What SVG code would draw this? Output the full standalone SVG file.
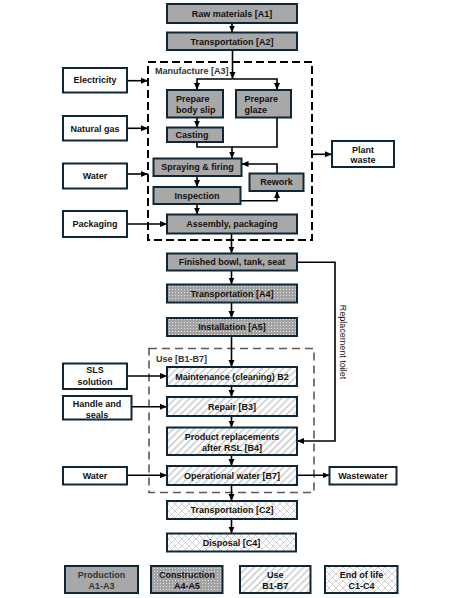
<svg xmlns="http://www.w3.org/2000/svg" width="467" height="598" viewBox="0 0 467 598">
<defs>
<style>
.n{stroke:#0f2636;stroke-width:2}
.g{fill:#a8a8a8}
.w{fill:#fff}
.d{fill:url(#dots)}
.h{fill:url(#hatch)}
.x{fill:url(#cross)}
text{font-family:"Liberation Sans",Arial,sans-serif;font-size:9px;font-weight:bold;fill:#111}
.c{text-anchor:middle}
.lbl{fill:#333}
.cn path,.cn line{fill:none;stroke:#000;stroke-width:1.6}
.a{marker-end:url(#ah)}
</style>
<marker id="ah" markerUnits="userSpaceOnUse" markerWidth="8" markerHeight="8" viewBox="0 0 8 8" refX="7" refY="4" orient="auto"><path d="M0,1 L7,4 L0,7 Z" fill="#000"/></marker>
<pattern id="dots" width="3" height="3" patternUnits="userSpaceOnUse"><rect width="3" height="3" fill="#a3a3a3"/><rect x="1" y="1" width="1" height="1" fill="#e4e4e4"/></pattern>
<pattern id="hatch" width="5" height="5" patternUnits="userSpaceOnUse" patternTransform="rotate(45)"><rect width="5" height="5" fill="#fff"/><line x1="0.5" y1="0" x2="0.5" y2="5" stroke="#c6c6c6" stroke-width="1.8"/></pattern>
<pattern id="cross" width="7" height="7" patternUnits="userSpaceOnUse"><rect width="7" height="7" fill="#fff"/><path d="M0,7 L7,0 M0,0 L7,7" stroke="#bdbdbd" stroke-width="0.7"/></pattern>
</defs>
<rect width="467" height="598" fill="#fff"/>

<g id="boundaries">
<rect x="148" y="62" width="164" height="178" fill="none" stroke="#000" stroke-width="2" stroke-dasharray="8,4"/>
<text class="lbl" x="155" y="74.3">Manufacture [A3]</text>
<rect x="149" y="348.5" width="165" height="144" fill="none" stroke="#595959" stroke-width="1.6" stroke-dasharray="8,5"/>
<text class="lbl" x="156" y="361.5">Use [B1-B7]</text>
</g>

<g id="connectors" class="cn">
<path class="a" d="M232,23 V32.5"/>
<path class="a" d="M232.5,50 V79"/>
<path class="a" d="M232.5,79 H197 V90"/>
<path class="a" d="M232.5,79 H277 V90"/>
<path class="a" d="M197,117.5 V127.5"/>
<path d="M277,117.5 V147 H232"/>
<path class="a" d="M197,142 V147 H232 V158.5"/>
<path class="a" d="M277,173.5 V164 H241.5"/>
<path class="a" d="M240.5,200.7 H277 V191"/>
<path class="a" d="M197,176 V187"/>
<path class="a" d="M197,204 V214.5"/>
<path class="a" d="M127,80.7 H148"/>
<path class="a" d="M127,128.3 H148"/>
<path class="a" d="M127,174 H148"/>
<path class="a" d="M127,224 H167"/>
<path class="a" d="M312,154.3 H332"/>
<path class="a" d="M231.5,233.5 V253.5"/>
<path class="a" d="M231.5,270.5 V284.5"/>
<path class="a" d="M231.5,302.5 V318"/>
<path class="a" d="M231.5,336 V367"/>
<path class="a" d="M231.5,386 V397"/>
<path class="a" d="M231.5,416 V427.5"/>
<path class="a" d="M231.5,455 V466"/>
<path class="a" d="M231.5,485 V501"/>
<path class="a" d="M231.5,519 V533.5"/>
<path class="a" d="M127,376 H167"/>
<path class="a" d="M131.5,406.7 H167"/>
<path class="a" d="M127,475.3 H167"/>
<path class="a" d="M297,475.3 H329.5"/>
<path class="a" d="M297,262.3 H335 V441 H297"/>
<text x="343" y="342" class="c" transform="rotate(90 343 342)" style="font-weight:normal" dy="3">Replacement toilet</text>
</g>

<g id="raw"><rect class="n g" x="167" y="4" width="130" height="19"/><text class="c" x="232" y="16.7">Raw materials [A1]</text></g>
<g id="transA2"><rect class="n g" x="167" y="32.5" width="130" height="17.5"/><text class="c" x="232" y="44.5">Transportation [A2]</text></g>
<g id="body"><rect class="n g" x="167" y="90" width="56" height="27.5"/><text x="176" y="102.2">Prepare</text><text x="176" y="112.7">body slip</text></g>
<g id="glaze"><rect class="n g" x="236" y="90" width="55" height="27.5"/><text x="244.5" y="102.2">Prepare</text><text x="244.5" y="112.7">glaze</text></g>
<g id="casting"><rect class="n g" x="167" y="127.5" width="56" height="14.5"/><text x="175.5" y="137.9">Casting</text></g>
<g id="spray"><rect class="n g" x="153.5" y="158.5" width="88" height="17.5"/><text class="c" x="197.5" y="170.4">Spraying &amp; firing</text></g>
<g id="rework"><rect class="n g" x="249.5" y="173.5" width="54" height="17.5"/><text class="c" x="276.5" y="185.4">Rework</text></g>
<g id="inspection"><rect class="n g" x="153.5" y="187" width="87" height="17"/><text class="c" x="197" y="198.7">Inspection</text></g>
<g id="assembly"><rect class="n g" x="167" y="214.5" width="130" height="19"/><text class="c" x="232" y="227.2">Assembly, packaging</text></g>
<g id="electricity"><rect class="n w" x="63" y="68" width="64" height="24.5"/><text class="c" x="95" y="83.4">Electricity</text></g>
<g id="natgas"><rect class="n w" x="63" y="116" width="64" height="24.5"/><text class="c" x="95" y="131.5">Natural gas</text></g>
<g id="water1"><rect class="n w" x="63" y="163.5" width="64" height="25"/><text class="c" x="95" y="179.2">Water</text></g>
<g id="packaging"><rect class="n w" x="63" y="211" width="64" height="26"/><text class="c" x="95" y="227.2">Packaging</text></g>
<g id="plantwaste"><rect class="n w" x="332" y="141" width="62" height="26"/><text class="c" x="363" y="152.5">Plant</text><text class="c" x="363" y="162.9">waste</text></g>
<g id="finished"><rect class="n g" x="167" y="253.5" width="130" height="17"/><text class="c" x="232" y="265.2">Finished bowl, tank, seat</text></g>
<g id="transA4"><rect class="n d" x="167" y="284.5" width="130" height="18"/><text class="c" x="232" y="296.7">Transportation [A4]</text></g>
<g id="install"><rect class="n d" x="167" y="318" width="130" height="18"/><text class="c" x="232" y="330.2">Installation [A5]</text></g>
<g id="maint"><rect class="n h" x="167" y="367" width="130" height="19"/><text class="c" x="232" y="379.7">Maintenance (cleaning) B2</text></g>
<g id="sls"><rect class="n w" x="63" y="363.5" width="64" height="25.5"/><text class="c" x="95" y="372.7">SLS</text><text class="c" x="95" y="384.9">solution</text></g>
<g id="repair"><rect class="n h" x="167" y="397" width="130" height="19"/><text class="c" x="232" y="409.7">Repair [B3]</text></g>
<g id="handle"><rect class="n w" x="63" y="396" width="68.5" height="23.5"/><text class="c" x="97" y="407.2">Handle and</text><text class="c" x="97" y="418.2">seals</text></g>
<g id="product"><rect class="n h" x="167" y="427.5" width="130" height="27.5"/><text class="c" x="232" y="439.9">Product replacements</text><text class="c" x="232" y="450.9">after RSL [B4]</text></g>
<g id="opwater"><rect class="n h" x="167" y="466" width="130" height="19"/><text class="c" x="232" y="478.7">Operational water [B7]</text></g>
<g id="water2"><rect class="n w" x="63" y="467" width="64" height="17.5"/><text class="c" x="95" y="478.9">Water</text></g>
<g id="wastewater"><rect class="n w" x="329.5" y="467" width="67" height="17.5"/><text class="c" x="363" y="478.9">Wastewater</text></g>
<g id="transC2"><rect class="n x" x="167" y="501" width="130" height="18"/><text class="c" x="232" y="513.2">Transportation [C2]</text></g>
<g id="disposal"><rect class="n x" x="167" y="533.5" width="129" height="18"/><text class="c" x="231.5" y="545.7">Disposal [C4]</text></g>

<g id="legend-production"><rect class="n g" x="65" y="566" width="73" height="27"/><text class="c lbl" x="101.5" y="578.2">Production</text><text class="c lbl" x="101.5" y="588.9">A1-A3</text></g>
<g id="legend-construction"><rect class="n d" x="151" y="566" width="71.5" height="27"/><text class="c" x="187" y="578.2">Construction</text><text class="c" x="187" y="588.9">A4-A5</text></g>
<g id="legend-use"><rect class="n h" x="240" y="566" width="70.5" height="27"/><text class="c" x="275.3" y="578.2">Use</text><text class="c" x="275.3" y="588.9">B1-B7</text></g>
<g id="legend-eol"><rect class="n x" x="325" y="566" width="72.5" height="27"/><text class="c" x="361.5" y="578.2">End of life</text><text class="c" x="361.5" y="588.9">C1-C4</text></g>
</svg>
